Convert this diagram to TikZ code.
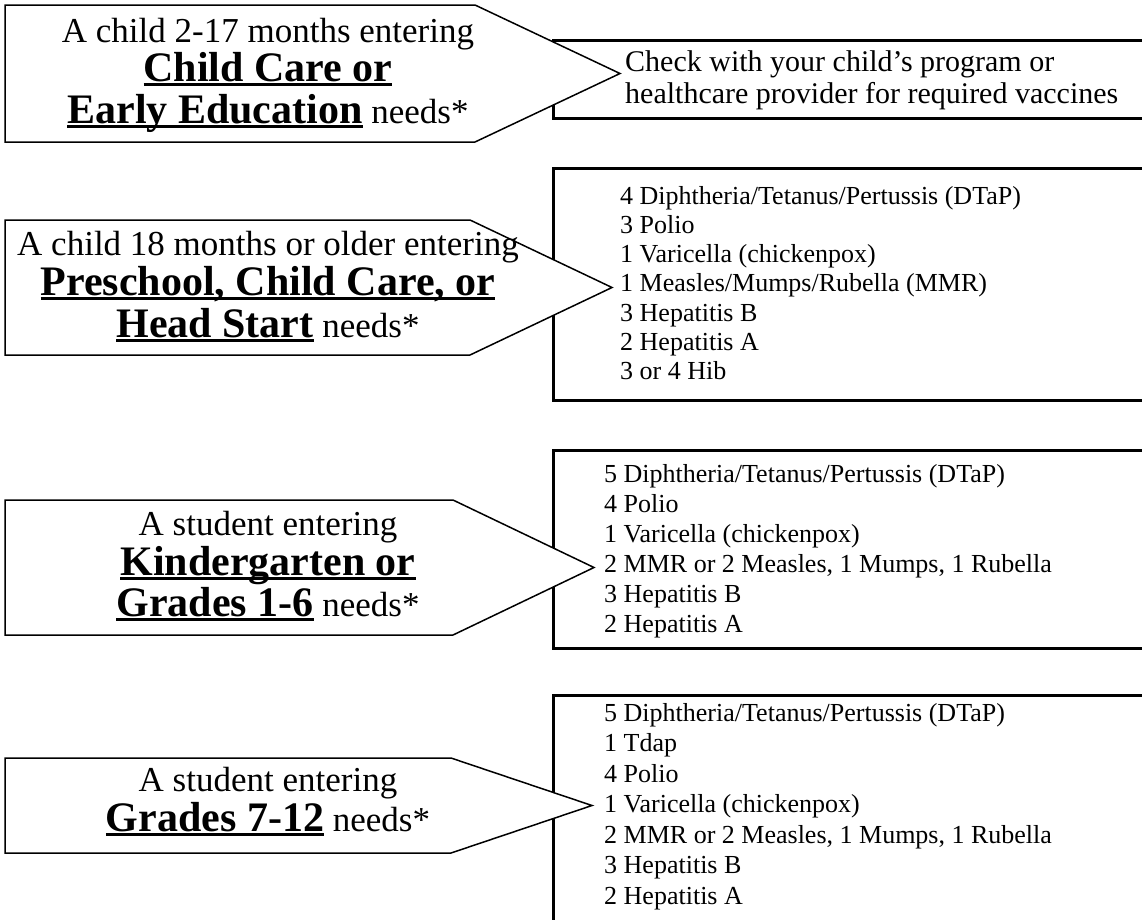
\documentclass[tikz,border=0pt]{standalone}
\usepackage{fontspec}
\setmainfont{Liberation Serif}
\newcommand\ulb[1]{\setbox0\hbox{\bfseries #1}\rlap{\rule[-0.11em]{\wd0}{0.065em}}\box0}
\newcommand\regsz{\fontsize{35}{40}\selectfont}
\newcommand\bigsz{\fontsize{42}{40}\selectfont}
\tikzset{
  arrowshape/.style={draw=black, line width=1.5pt, fill=white, line join=miter},
  listbox/.style={draw=black, line width=3pt},
  lbl/.style={inner sep=0pt, anchor=base},
  item/.style={inner sep=0pt, anchor=base west, font=\fontsize{26}{29}\selectfont},
  note/.style={inner sep=0pt, anchor=base west, font=\fontsize{30}{35}\selectfont},
}
\begin{document}
\begin{tikzpicture}[x=1pt,y=-1pt]
\useasboundingbox (0,0) rectangle (1142,919);
\clip (0,0) rectangle (1142,919);
\fill[white] (0,0) rectangle (1142,919);

% ---- row 1
\draw[listbox] (553,40) rectangle (1170,118);
\draw[arrowshape] (5,5) -- (475,5) -- (620,73.5) -- (475,142) -- (5,142) -- cycle;
\node[lbl, font=\regsz] (a1l1) at (268,42) {A child 2-17 months entering};
\node[lbl] (a1l2) at (268,81) {\bigsz\ulb{Child Care or}};
\node[lbl] (a1l3) at (268,123) {\bigsz\ulb{Early Education}\regsz{} needs*};
\node[note] (b1l1) at (625,71) {Check with your child’s program or};
\node[note] (b1l2) at (625,103) {healthcare provider for required vaccines};

% ---- row 2
\draw[listbox] (553,168) rectangle (1170,400);
\draw[arrowshape] (5,220) -- (470,220) -- (612,287.5) -- (470,355) -- (5,355) -- cycle;
\node[lbl, font=\regsz] (a2l1) at (268,255) {A child 18 months or older entering};
\node[lbl] (a2l2) at (268,295) {\bigsz\ulb{Preschool, Child Care, or}};
\node[lbl] (a2l3) at (268,337) {\bigsz\ulb{Head Start}\regsz{} needs*};
\foreach \t [count=\i from 0] in {4 Diphtheria/Tetanus/Pertussis (DTaP), 3 Polio, 1 Varicella (chickenpox), 1 Measles/Mumps/Rubella (MMR), 3 Hepatitis B, 2 Hepatitis A, 3 or 4 Hib}
  \node[item] (b2i\i) at (620,204+29.3*\i) {\t};

% ---- row 3
\draw[listbox] (553,450) rectangle (1170,648);
\draw[arrowshape] (5,500) -- (453,500) -- (594,567.5) -- (453,635) -- (5,635) -- cycle;
\node[lbl, font=\regsz] (a3l1) at (268,535) {A student entering};
\node[lbl] (a3l2) at (268,575) {\bigsz\ulb{Kindergarten or}};
\node[lbl] (a3l3) at (268,616) {\bigsz\ulb{Grades 1-6}\regsz{} needs*};
\foreach \t [count=\i from 0] in {5 Diphtheria/Tetanus/Pertussis (DTaP), 4 Polio, 1 Varicella (chickenpox), {2 MMR or 2 Measles, 1 Mumps, 1 Rubella}, 3 Hepatitis B, 2 Hepatitis A}
  \node[item] (b3i\i) at (604,482+30*\i) {\t};

% ---- row 4
\draw[listbox] (553,695) rectangle (1170,960);
\draw[arrowshape] (5,758) -- (451,758) -- (592,805.5) -- (451,853) -- (5,853) -- cycle;
\node[lbl, font=\regsz] (a4l1) at (268,791) {A student entering};
\node[lbl] (a4l2) at (268,831) {\bigsz\ulb{Grades 7-12}\regsz{} needs*};
\foreach \t [count=\i from 0] in {5 Diphtheria/Tetanus/Pertussis (DTaP), 1 Tdap, 4 Polio, 1 Varicella (chickenpox), {2 MMR or 2 Measles, 1 Mumps, 1 Rubella}, 3 Hepatitis B, 2 Hepatitis A}
  \node[item] (b4i\i) at (604,721+30.5*\i) {\t};
\end{tikzpicture}
\end{document}
